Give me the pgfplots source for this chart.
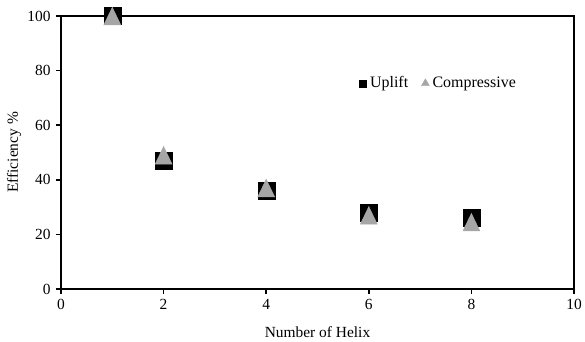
\documentclass[border=0pt]{standalone}
\usepackage{pgfplots}
\pgfplotsset{compat=1.18}
\usepackage{fontspec}
\setmainfont{Liberation Serif}
\definecolor{trigray}{RGB}{166,166,166}
\begin{document}
\fontsize{15.5}{18}\selectfont
\begin{tikzpicture}
\begin{axis}[
  at={(0,0)}, anchor=south west,
  scale only axis, width=513bp, height=273bp,
  xmin=0, xmax=10, ymin=0, ymax=100,
  xtick={0,2,...,10}, ytick={0,20,...,100},
  xtick pos=bottom, ytick pos=left,
  tick align=outside, major tick length=5bp,
  axis line style={line width=2bp, black},
  tick style={line width=1.5bp, black},
  /pgf/number format/assume math mode=true,
  ticklabel style={font=\fontsize{15.5}{18}\selectfont},
  label style={font=\fontsize{15.5}{18}\selectfont},
  xlabel={Number of Helix},
  ylabel={Efficiency \%},
  xlabel style={at={(axis description cs:0.5,-0.1564)}, anchor=center},
  ylabel style={at={(axis description cs:-0.0916,0.5)}, anchor=center},
  clip=false,
  legend columns=2,
  legend style={at={(0.58,0.753)}, anchor=west, draw=none, fill=none,
    inner sep=0pt, nodes={inner sep=3bp},
    font=\fontsize{16}{18}\selectfont,
    /tikz/every even column/.append style={column sep=10bp}},
]
\addplot[only marks, mark=square*, mark size=8.5bp, color=black, forget plot]
  coordinates {(1,100) (2,47) (4,36) (6,28) (8,26)};
\addplot[only marks, mark=triangle*, mark size=9.8bp, color=trigray,
  mark options={yscale=1.2, yshift=-2.5bp}, forget plot]
  coordinates {(1,100) (2,49) (4,37) (6,27) (8,24.5)};
\addlegendimage{legend image code/.code={\path (-4bp,0) (4bp,0);
  \draw[only marks, mark=square*, mark size=3.5bp, black] plot coordinates {(0bp,0bp)};}}
\addlegendentry{Uplift}
\addlegendimage{legend image code/.code={\path (-4bp,0) (4bp,0);
  \draw[only marks, mark=triangle*, mark size=4.6bp, trigray] plot coordinates {(0bp,0bp)};}}
\addlegendentry{Compressive}
\end{axis}
\pgfresetboundingbox
\useasboundingbox (-61bp,-53bp) rectangle (524bp,289bp);
\end{tikzpicture}
\end{document}
